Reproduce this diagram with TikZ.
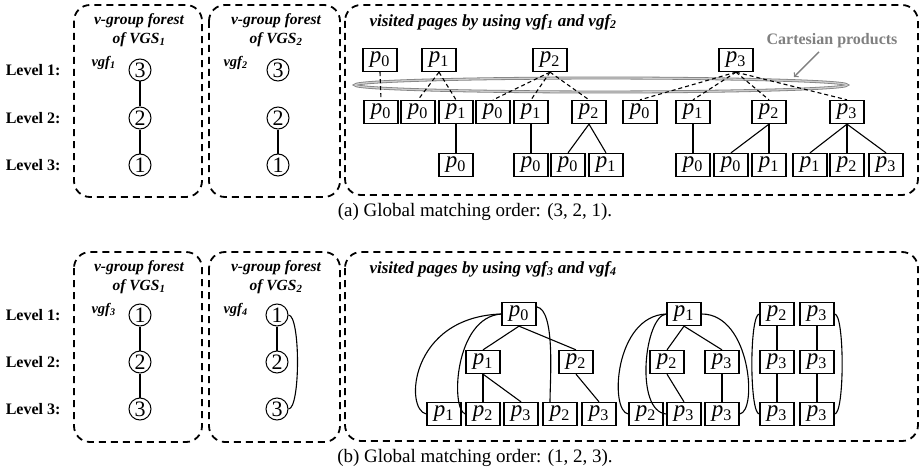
\documentclass[tikz,border=0pt]{standalone}
\usepackage{fontspec}
\setmainfont{Liberation Serif}
\usepackage{tikz}
\tikzset{
  panelS/.style ={dash pattern=on 7pt off 5pt, line width=1.8pt, rounded corners=16pt},
  pageS/.style  ={draw=black, line width=1.3pt, minimum width=34pt, minimum height=23pt, inner sep=0pt, font=\fontsize{23}{24}\selectfont},
  vgS/.style    ={draw=black, circle, line width=1pt, minimum size=22pt, inner sep=0pt, font=\fontsize{22}{22}\selectfont},
  linkS/.style  ={line width=1.1pt},
  cartS/.style  ={dash pattern=on 4pt off 3pt, line width=1.1pt},
  ellS/.style   ={draw=black!50, line width=0.8pt, double=black!20, double distance=1.3pt},
  arrS/.style   ={->, draw=black!50, line width=1.4pt},
  levelS/.style ={anchor=east, font=\bfseries\fontsize{16}{18}\selectfont},
  titleS/.style ={align=center, font=\bfseries\itshape\fontsize{15.5}{19}\selectfont},
  visS/.style   ={anchor=west, font=\bfseries\itshape\fontsize{17}{20}\selectfont},
  vgfS/.style   ={anchor=west, font=\bfseries\itshape\fontsize{14.5}{16}\selectfont},
  cartlS/.style ={text=black!50, font=\bfseries\fontsize{16}{18}\selectfont},
  capS/.style   ={font=\fontsize{19}{21}\selectfont},
}
\newcommand{\pg}[1]{\textit{p}\textsubscript{#1}}

\begin{document}
\begin{tikzpicture}[x=1pt,y=-1pt]
  \useasboundingbox (0,0) rectangle (920,476);
  % (a)
  \draw[panelS] (74,5) rectangle (202,197);
  \draw[panelS] (209,5) rectangle (340,197);
  \draw[panelS] (345,5) rectangle (918,195);
  \node[levelS] (lva1) at (64,70) {Level 1:};
  \node[levelS] (lva2) at (64,118) {Level 2:};
  \node[levelS] (lva3) at (64,165) {Level 3:};
  \node[titleS] (ttla) at (139,30) {v-group forest\\of VGS\textsubscript{1}};
  \node[titleS] (ttlb) at (276,30) {v-group forest\\of VGS\textsubscript{2}};
  \node[vgfS] (vgf1) at (88,63) {vgf\textsubscript{1}};
  \node[vgfS] (vgf2) at (220,63) {vgf\textsubscript{2}};
  \node[vgS] (g1c3) at (140,70) {3};  \node[vgS] (g1c2) at (140,118) {2};  \node[vgS] (g1c1) at (140,165) {1};
  \node[vgS] (g2c3) at (278,70) {3};  \node[vgS] (g2c2) at (278,118) {2};  \node[vgS] (g2c1) at (278,165) {1};
  \draw[linkS] (g1c3) -- (g1c2) -- (g1c1);
  \draw[linkS] (g2c2) -- (g2c1);
  \node[visS] (ttlc) at (366,22) {visited pages by using vgf\textsubscript{1} and vgf\textsubscript{2}};
  \node[pageS] (ta) at (380,60) {\pg{0}};  \node[pageS] (tb) at (439,60) {\pg{1}};
  \node[pageS] (tc) at (550,60) {\pg{2}};  \node[pageS] (td) at (736,60) {\pg{3}};
  \node[pageS] (s1) at (381,112) {\pg{0}};  \node[pageS] (s2) at (418,112) {\pg{0}};
  \node[pageS] (s3) at (456,112) {\pg{1}};  \node[pageS] (s4) at (493,112) {\pg{0}};
  \node[pageS] (s5) at (531,112) {\pg{1}};  \node[pageS] (s6) at (589,112) {\pg{2}};
  \node[pageS] (s7) at (640,112) {\pg{0}};  \node[pageS] (s8) at (693,112) {\pg{1}};
  \node[pageS] (s9) at (769,112) {\pg{2}};  \node[pageS] (s10) at (847,112) {\pg{3}};
  \node[pageS] (w1) at (456,165) {\pg{0}};  \node[pageS] (w2) at (531,165) {\pg{0}};
  \node[pageS] (w3) at (568,165) {\pg{0}};  \node[pageS] (w4) at (606,165) {\pg{1}};
  \node[pageS] (w5) at (693,165) {\pg{0}};  \node[pageS] (w6) at (731,165) {\pg{0}};
  \node[pageS] (w7) at (769,165) {\pg{1}};  \node[pageS] (w8) at (810,165) {\pg{1}};
  \node[pageS] (w9) at (847,165) {\pg{2}};  \node[pageS] (w10) at (886,165) {\pg{3}};
  \draw[ellS] (601,85) ellipse [x radius=246pt, y radius=7pt];
  \draw[cartS] (ta.south) -- (s1.north);
  \draw[cartS] (tb.south) -- (s2.north);  \draw[cartS] (tb.south) -- (s3.north);
  \draw[cartS] (tc.south) -- (s4.north);  \draw[cartS] (tc.south) -- (s5.north);  \draw[cartS] (tc.south) -- (s6.north);
  \draw[cartS] (td.south) -- (s7.north);  \draw[cartS] (td.south) -- (s8.north);
  \draw[cartS] (td.south) -- (s9.north);  \draw[cartS] (td.south) -- (s10.north);
  \draw[linkS] (s3) -- (w1);  \draw[linkS] (s5) -- (w2);
  \draw[linkS] (s6.south) -- (w3.north);  \draw[linkS] (s6.south) -- (w4.north);
  \draw[linkS] (s8) -- (w5);
  \draw[linkS] (s9.south) -- (w6.north);  \draw[linkS] (s9.south) -- (w7.north);
  \draw[linkS] (s10.south) -- (w8.north);  \draw[linkS] (s10.south) -- (w9.north);  \draw[linkS] (s10.south) -- (w10.north);
  \node[cartlS] (cart) at (832,41) {Cartesian products};
  \coordinate (cpt) at (794,77);
  \draw[arrS] ([xshift=-13pt]cart.south) -- (cpt);
  \node[capS] (capa) at (475,212) {(a) Global matching order: (3, 2, 1).};
  % (b)
  \draw[panelS] (74,252) rectangle (202,442);
  \draw[panelS] (209,252) rectangle (340,442);
  \draw[panelS] (345,252) rectangle (918,441);
  \node[levelS] (lvb1) at (64,315) {Level 1:};
  \node[levelS] (lvb2) at (64,362) {Level 2:};
  \node[levelS] (lvb3) at (64,409) {Level 3:};
  \node[titleS] (ttld) at (139,277) {v-group forest\\of VGS\textsubscript{1}};
  \node[titleS] (ttle) at (276,277) {v-group forest\\of VGS\textsubscript{2}};
  \node[vgfS] (vgf3) at (88,310) {vgf\textsubscript{3}};
  \node[vgfS] (vgf4) at (220,310) {vgf\textsubscript{4}};
  \node[vgS] (g3c1) at (140,315) {1};  \node[vgS] (g3c2) at (140,362) {2};  \node[vgS] (g3c3) at (140,409) {3};
  \node[vgS] (g4c1) at (277,315) {1};  \node[vgS] (g4c2) at (277,362) {2};  \node[vgS] (g4c3) at (277,409) {3};
  \draw[linkS] (g3c1) -- (g3c2) -- (g3c3);
  \draw[linkS] (g4c1) -- (g4c2);
  \draw[linkS] (g4c1.east) .. controls +(12,0) and +(12,0) .. (g4c3.east);
  \node[visS] (ttlf) at (366,269) {visited pages by using vgf\textsubscript{3} and vgf\textsubscript{4}};
  \node[pageS] (r1) at (519,314) {\pg{0}};
  \node[pageS] (m1) at (483,362) {\pg{1}};  \node[pageS] (m2) at (576,362) {\pg{2}};
  \node[pageS] (l1) at (444,414) {\pg{1}};  \node[pageS] (l2) at (483,414) {\pg{2}};
  \node[pageS] (l3) at (521,414) {\pg{3}};  \node[pageS] (l4) at (560,414) {\pg{2}};
  \node[pageS] (l5) at (599,414) {\pg{3}};
  \draw[linkS] (r1.south) -- (m1.north);  \draw[linkS] (r1.south) -- (m2.north);
  \draw[linkS] (m1) -- (l2);  \draw[linkS] (m1.south) -- (l3.north);  \draw[linkS] (m2.south) -- (l5.north);
  \draw[linkS] (r1.west) .. controls +(-92,3) and +(-22,-4) .. (l1.west);
  \draw[linkS] (r1.west) .. controls +(-47,3) and +(-15,-4) .. (l2.west);
  \draw[linkS] ([yshift=-5pt]r1.north east) .. controls +(19,3) and +(0,-22) .. ([xshift=-10pt]l4.north);
  \node[pageS] (r2) at (684,314) {\pg{1}};
  \node[pageS] (n1) at (667,362) {\pg{2}};  \node[pageS] (n2) at (722,362) {\pg{3}};
  \node[pageS] (k1) at (646,414) {\pg{2}};  \node[pageS] (k2) at (684,414) {\pg{3}};
  \node[pageS] (k3) at (722,414) {\pg{3}};
  \draw[linkS] (r2.south) -- (n1.north);  \draw[linkS] (r2.south) -- (n2.north);
  \draw[linkS] (n1.south) -- (k2.north);  \draw[linkS] (n2) -- (k3);
  \draw[linkS] (r2.west) .. controls +(-52,2) and +(-19,-2.5) .. (k1.west);
  \draw[linkS] (r2.west) .. controls +(-22,2) and +(-32,-2.5) .. (k2.west);
  \draw[linkS] (r2.east) .. controls +(49,0) and +(18,-2.5) .. (k3.east);
  \node[pageS] (e1) at (777,314) {\pg{2}};  \node[pageS] (h1) at (817,314) {\pg{3}};
  \node[pageS] (e2) at (777,362) {\pg{3}};  \node[pageS] (h2) at (817,362) {\pg{3}};
  \node[pageS] (e3) at (777,414) {\pg{3}};  \node[pageS] (h3) at (817,414) {\pg{3}};
  \draw[linkS] (e1) -- (e2) -- (e3);  \draw[linkS] (h1) -- (h2) -- (h3);
  \draw[linkS] (e1.west) .. controls +(-10,0) and +(-10,0) .. (e3.west);
  \draw[linkS] (h1.east) .. controls +(10,0) and +(10,0) .. (h3.east);
  \node[capS] (capb) at (475,458) {(b) Global matching order: (1, 2, 3).};
\end{tikzpicture}
\end{document}
